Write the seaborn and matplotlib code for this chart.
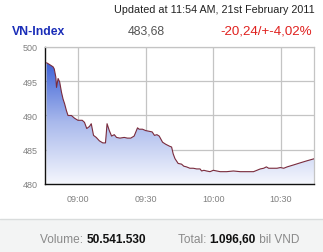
import numpy as np
import pandas as pd
import matplotlib
matplotlib.use('Agg')
import matplotlib.pyplot as plt
import seaborn as sns
from matplotlib.colors import LinearSegmentedColormap
from matplotlib.patches import Rectangle
from matplotlib.lines import Line2D

# minutes relative to 09:00
minutes = [-13.9, -12.4, -11.0, -10.5, -9.8, -9.5, -8.8, -8.1, -7.3, -6.6, -5.9, -5.1,
           -4.4, -2.9, -1.5, 0.0, 1.9, 2.9, 3.9, 5.1, 5.9, 6.9, 8.1, 9.5, 11.0, 12.2,
           12.9, 13.9, 14.9, 16.1, 17.1, 18.6, 20.5, 21.9, 23.4, 24.9, 26.4, 27.1,
           28.6, 30.0, 31.5, 32.9, 33.9, 35.0, 36.0, 37.5, 38.9, 40.7, 41.5, 42.2,
           43.0, 44.4, 45.9, 46.9, 48.1, 49.6, 51.1, 52.6, 54.1, 54.8, 55.8, 57.0,
           58.5, 60.0, 61.5, 63.0, 65.9, 68.9, 71.9, 74.9, 77.8, 79.3, 80.8, 82.3,
           83.5, 84.5, 86.0, 88.2, 89.7, 91.2, 92.7, 95.7, 98.6, 101.6, 104.6]
values = [497.7, 497.4, 497.1, 496.8, 495.6, 494.1, 495.4, 494.9, 493.4, 492.4, 491.7, 490.7,
          490.0, 490.0, 489.6, 489.3, 489.3, 489.0, 488.1, 488.4, 488.8, 487.1, 486.8, 486.3,
          486.0, 486.0, 488.8, 487.8, 487.0, 487.2, 486.8, 486.7, 486.8, 486.7, 486.7,
          487.0, 488.2, 488.0, 488.0, 487.8, 487.7, 487.6, 487.1, 487.2, 487.0, 486.1,
          485.8, 485.5, 485.4, 484.4, 483.7, 483.0, 482.9, 482.6, 482.5, 482.3, 482.3,
          482.2, 482.2, 481.9, 482.0, 481.9, 481.8, 482.0, 481.9, 481.8, 481.8, 481.9,
          481.8, 481.8, 481.8, 482.0, 482.2, 482.3, 482.5, 482.3, 482.3, 482.3, 482.4,
          482.3, 482.5, 482.8, 483.1, 483.4, 483.68]
tick_minutes = [0, 30, 60, 90]
tick_labels = ['09:00', '09:30', '10:00', '10:30']
y_ticks = [480, 485, 490, 495, 500]

sns.set_style('white')
plt.rcParams['font.family'] = ['Liberation Sans', 'DejaVu Sans']

W, H = 323, 253
fig = plt.figure(figsize=(W / 100, H / 100), dpi=100)
fig.patch.set_facecolor('white')

# bottom band
fig.patches.append(Rectangle((0, 0), 1, (H - 220) / H, transform=fig.transFigure,
                             facecolor='#f3f4f4', edgecolor='none', zorder=0))
fig.lines.append(Line2D([0, 1], [(H - 220) / H] * 2, transform=fig.transFigure,
                        color='#d9dcdc', lw=1))

ax = fig.add_axes([45 / W, 1 - 185 / H, (314 - 45) / W, (185 - 48) / H])
xmin, xmax = -14.6, 104.6
ax.set_xlim(xmin, xmax)
ax.set_ylim(480, 500)

df = pd.DataFrame({'t': minutes, 'v': values})
poly = ax.fill_between(df['t'], df['v'], 480, color='none', lw=0)
cmap = LinearSegmentedColormap.from_list('g', ['#f5f7fd', '#a9b9ec', '#3a5fd6'])
grad = np.linspace(0, 1, 256).reshape(-1, 1)
im = ax.imshow(grad, extent=[xmin, xmax, 480, 498], aspect='auto', cmap=cmap,
               origin='lower', zorder=1)
im.set_clip_path(poly.get_paths()[0], transform=ax.transData)
ax.set_xlim(xmin, xmax)
ax.set_ylim(480, 500)

sns.lineplot(data=df, x='t', y='v', ax=ax, color='#7a2b3c', lw=0.8, zorder=3)

ax.set_xticks(tick_minutes)
ax.set_xticklabels(tick_labels)
ax.set_yticks(y_ticks)
ax.set_yticklabels([str(v) for v in y_ticks])
ax.grid(True, color='#c4c4c4', lw=0.9)
ax.set_axisbelow(True)
ax.set_xlabel('')
ax.set_ylabel('')
for s in ['top', 'right']:
    ax.spines[s].set_color('#c4c4c4')
    ax.spines[s].set_linewidth(0.9)
for s in ['left', 'bottom']:
    ax.spines[s].set_color('#111111')
    ax.spines[s].set_linewidth(1.0)
ax.tick_params(axis='both', length=3, width=0.9, color='#111111', labelsize=6.5,
               labelcolor='#808080', pad=2, direction='out')
ax.tick_params(axis='x', pad=4)

def px(x, y):
    return x / W, 1 - y / H

fig.text(*px(315, 10), 'Updated at 11:54 AM, 21st February 2011', ha='right', va='center',
         fontsize=7.75, color='#222222')
fig.text(*px(12, 32), 'VN-Index', ha='left', va='center', fontsize=8.8, fontweight='bold',
         color='#1a2db8')
fig.text(*px(128, 32), '483,68', ha='left', va='center', fontsize=8.8, color='#555555')
fig.text(*px(312, 32), '-20,24/+-4,02%', ha='right', va='center', fontsize=9.6,
         color='#e0211f')

tv1 = fig.text(*px(40, 240), 'Volume: ', ha='left', va='center', fontsize=8.6, color='#8a8a8a')
fig.canvas.draw()
r = fig.canvas.get_renderer()
bb = tv1.get_window_extent(r)
fig.text(bb.x1 / W, 1 - 240 / H, '50.541.530', ha='left', va='center', fontsize=8.6,
         fontweight='bold', color='#111111')

t1 = fig.text(*px(178, 240), 'Total: ', ha='left', va='center', fontsize=8.6, color='#8a8a8a')
bb = t1.get_window_extent(r)
t2 = fig.text(bb.x1 / W, 1 - 240 / H, '1.096,60', ha='left', va='center', fontsize=8.6,
              fontweight='bold', color='#111111')
bb2 = t2.get_window_extent(r)
fig.text(bb2.x1 / W, 1 - 240 / H, ' bil VND', ha='left', va='center', fontsize=8.6,
         color='#8a8a8a')

fig.savefig('out.png', dpi=100)
